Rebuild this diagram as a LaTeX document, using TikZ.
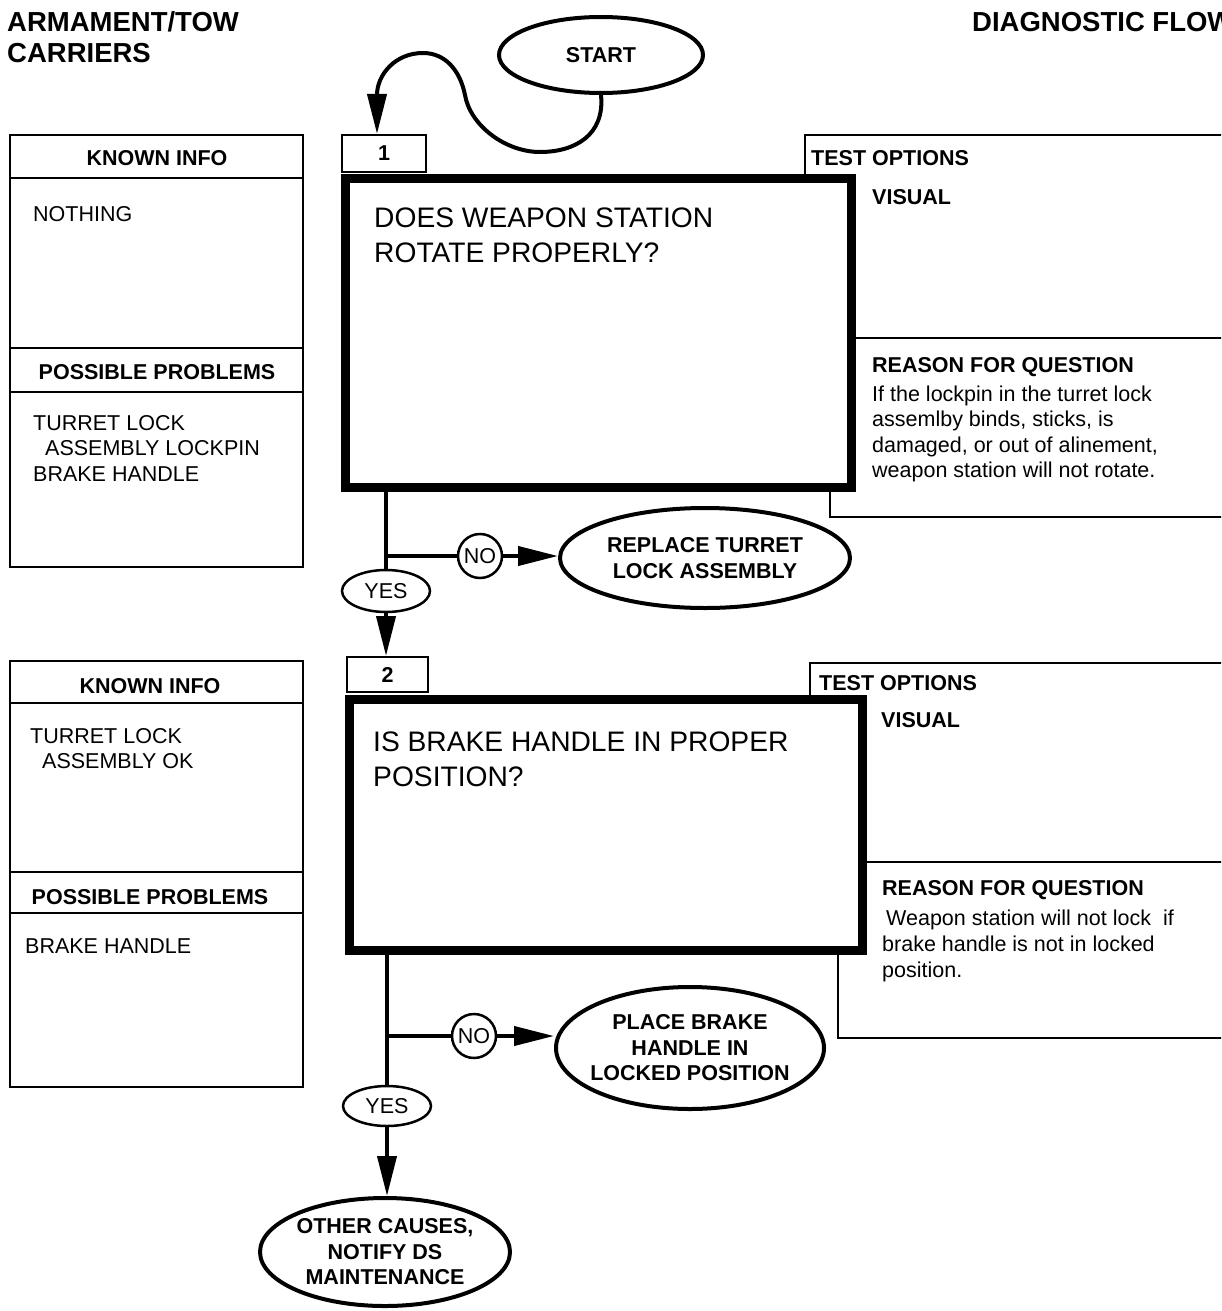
\documentclass[tikz,border=0pt]{standalone}
\usepackage{fontspec}
\setmainfont{Liberation Sans}
\usetikzlibrary{shapes.geometric,arrows.meta}
\newcommand\fsz{\fontsize{21.5pt}{25.5pt}\selectfont}
\newcommand\fbig{\fontsize{27.5pt}{34pt}\selectfont}
\newcommand\fq{\fontsize{28.2pt}{35pt}\selectfont}
\begin{document}
\begin{tikzpicture}[x=1pt,y=-1pt,
  every node/.style={inner sep=0pt,font=\fsz},
  txt/.style={anchor=base west},
  ctxt/.style={anchor=base},
  hd/.style={font=\fsz\bfseries},
  big/.style={font=\fq},
  panel/.style={draw,line width=2pt},
  tbox/.style={line width=2.5pt},
  qbox/.style={draw,line width=9pt,inner sep=0pt},
  numbox/.style={draw,line width=2pt,font=\fsz\bfseries},
  conn/.style={line width=4pt},
  tip/.style={-{Triangle[length=40pt,width=19pt]}},
  bigell/.style={ellipse,draw,line width=4pt,font=\fsz\bfseries,align=center,inner xsep=-20pt,inner ysep=0pt},
  smell/.style={ellipse,draw,line width=2.5pt,inner sep=0pt},
  nocirc/.style={circle,draw,line width=2.5pt,inner sep=0pt}]
\useasboundingbox (0,0) rectangle (1221,1311);
\clip (0,0) rectangle (1221,1311);

% titles
\node[txt,font=\fbig\bfseries] (t1) at (7,32) {ARMAMENT/TOW};
\node[txt,font=\fbig\bfseries] (t2) at (7,63) {CARRIERS};
\node[txt,font=\fbig\bfseries] (t3) at (972,32) {DIAGNOSTIC FLOW};

% ---------- panel 1 ----------
\draw[panel] (10,135) rectangle (303,567);
\draw[panel] (10,178) -- (303,178);
\draw[panel] (10,348) -- (303,348);
\draw[panel] (10,392) -- (303,392);
\node[ctxt,hd] (k1) at (157,165) {KNOWN INFO};
\node[txt] (k1a) at (33,221) {NOTHING};
\node[ctxt,hd] (p1) at (157,379) {POSSIBLE PROBLEMS};
\node[txt] (p1a) at (33,430) {TURRET LOCK};
\node[txt] (p1b) at (45,455) {ASSEMBLY LOCKPIN};
\node[txt] (p1c) at (33,481) {BRAKE HANDLE};

% ---------- test box 1 ----------
\draw[tbox] (805,178) -- (805,135) -- (1240,135);
\draw[tbox] (830,487) -- (830,517) -- (1240,517);
\draw[tbox] (851,338) -- (1240,338);
\node[txt,hd] (to1) at (811,165) {TEST OPTIONS};
\node[txt,hd] (v1) at (872,204) {VISUAL};
\node[txt,hd] (rq1) at (872,372) {REASON FOR QUESTION};
\node[txt] (r1a) at (872,401) {If the lockpin in the turret lock};
\node[txt] (r1b) at (872,426.5) {assemlby binds, sticks, is};
\node[txt] (r1c) at (872,452) {damaged, or out of alinement,};
\node[txt] (r1d) at (872,477) {weapon station will not rotate.};

% ---------- question box 1 ----------
\node[numbox,minimum width=84pt,minimum height=37pt] (num1) at (384,153.5) {1};
\node[qbox,minimum width=506pt,minimum height=309pt] (q1) at (598,332.5) {};
\node[txt,big] (q1a) at (374,227) {DOES WEAPON STATION};
\node[txt,big] (q1b) at (374,262) {ROTATE PROPERLY?};

% start
\node[bigell,minimum width=204pt,minimum height=76pt] (st) at (601,55) {START};
\draw[conn,tip] (st.south) .. controls (605,135) and (575,152) .. (540,152)
  .. controls (505,152) and (470,125) .. (465,95)
  .. controls (460,70) and (445,53) .. (423,53)
  .. controls (395,53) and (377,75) .. ([xshift=-7pt]num1.north);

% branches 1
\node[smell,minimum width=88pt,minimum height=42pt] (y1) at (386,591) {YES};
\node[nocirc,minimum size=44pt] (n1) at (480,556) {NO};
\node[bigell,minimum width=290pt,minimum height=100pt] (r1) at (705,558) {REPLACE TURRET\\LOCK ASSEMBLY};
\draw[conn] (y1 |- q1.south) -- (y1.north);
\draw[conn] (y1 |- n1) -- (n1.west);
\draw[conn,tip] (n1.east) -- (n1.east -| r1.west);

% ---------- panel 2 ----------
\draw[panel] (10,661) rectangle (303,1087);
\draw[panel] (10,703) -- (303,703);
\draw[panel] (10,872) -- (303,872);
\draw[panel] (10,913) -- (303,913);
\node[ctxt,hd] (k2) at (150,693) {KNOWN INFO};
\node[txt] (k2a) at (30,743) {TURRET LOCK};
\node[txt] (k2b) at (42,768) {ASSEMBLY OK};
\node[ctxt,hd] (p2) at (150,904) {POSSIBLE PROBLEMS};
\node[txt] (p2a) at (25,953) {BRAKE HANDLE};

% ---------- test box 2 ----------
\draw[tbox] (810,699) -- (810,663) -- (1240,663);
\draw[tbox] (838,950) -- (838,1038) -- (1240,1038);
\draw[tbox] (862,862) -- (1240,862);
\node[txt,hd] (to2) at (819,690) {TEST OPTIONS};
\node[txt,hd] (v2) at (881,727) {VISUAL};
\node[txt,hd] (rq2) at (882,895) {REASON FOR QUESTION};
\node[txt] (r2a) at (886,925) {Weapon station will not lock\ \ if};
\node[txt] (r2b) at (882,951) {brake handle is not in locked};
\node[txt] (r2c) at (882,977) {position.};

% ---------- question box 2 ----------
\node[numbox,minimum width=81pt,minimum height=35pt] (num2) at (387.5,674.5) {2};
\node[qbox,minimum width=513pt,minimum height=251pt] (q2) at (605.5,824.5) {};
\node[txt,big] (q2a) at (373,751) {IS BRAKE HANDLE IN PROPER};
\node[txt,big] (q2b) at (373,786) {POSITION?};

\draw[conn,tip] (y1.south) -- (y1.south |- num2.north);

% branches 2
\node[smell,minimum width=88pt,minimum height=40pt] (y2) at (387,1106) {YES};
\node[nocirc,minimum size=44pt] (n2) at (474,1036) {NO};
\node[bigell,minimum width=268pt,minimum height=122pt] (pl2) at (690,1048) {PLACE BRAKE\\HANDLE IN\\LOCKED POSITION};
\node[bigell,minimum width=250pt,minimum height=108pt] (o2) at (385,1252) {OTHER CAUSES,\\NOTIFY DS\\MAINTENANCE};
\draw[conn] (y2 |- q2.south) -- (y2.north);
\draw[conn] (y2 |- n2) -- (n2.west);
\draw[conn,tip] (n2.east) -- (n2.east -| pl2.west);
\draw[conn,tip] (y2.south) -- (y2.south |- o2.north);
\end{tikzpicture}
\end{document}
